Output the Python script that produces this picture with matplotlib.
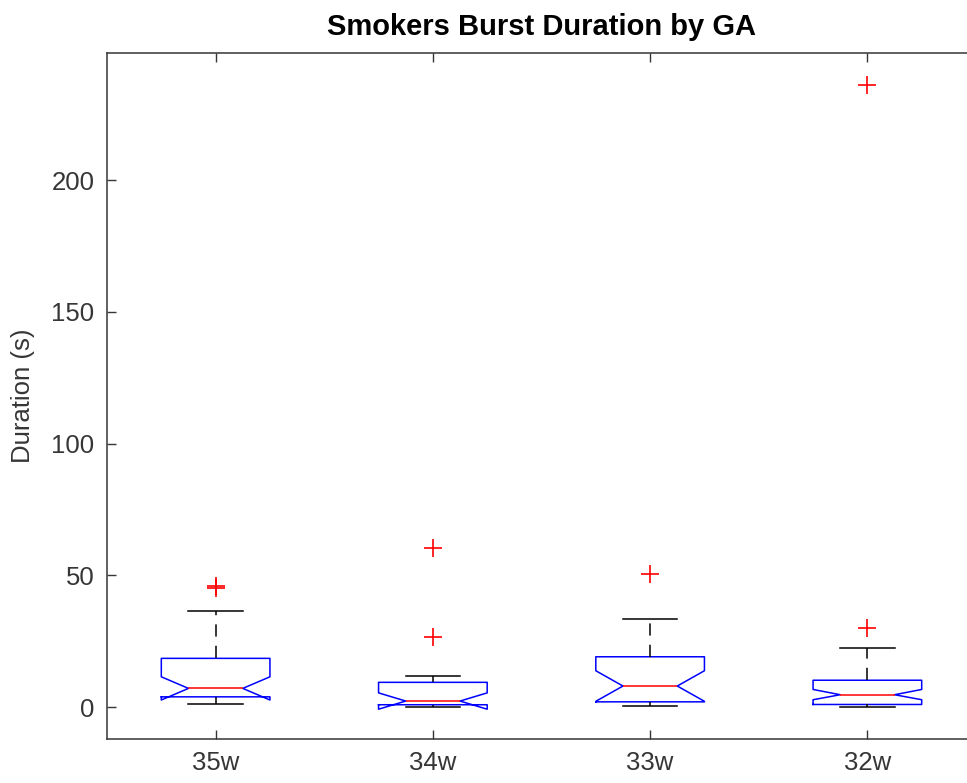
import matplotlib
matplotlib.use('Agg')
import matplotlib.pyplot as plt

# burst duration summary per gestational age group (seconds)
groups = ['35w', '34w', '33w', '32w']
medians = [7.1, 2.3, 8.0, 4.7]
q1 = [3.9, 0.9, 2.0, 1.0]
q3 = [18.5, 9.4, 19.1, 10.2]
whisker_lo = [1.0, 0.1, 0.3, 0.1]
whisker_hi = [36.5, 11.8, 33.5, 22.3]
notch_lo = [2.7, -0.8, 2.2, 2.8]
notch_hi = [11.5, 5.4, 13.8, 6.7]
outliers = [[45.3, 46.0], [26.7, 60.2], [50.5], [29.9, 236.1]]

plt.rcParams['font.family'] = ['Liberation Sans', 'DejaVu Sans']
axis_gray = '#363636'

stats = []
for i, name in enumerate(groups):
    stats.append({
        'label': name,
        'med': medians[i],
        'q1': q1[i],
        'q3': q3[i],
        'whislo': whisker_lo[i],
        'whishi': whisker_hi[i],
        'cilo': notch_lo[i],
        'cihi': notch_hi[i],
        'fliers': outliers[i],
    })

fig = plt.figure(figsize=(9.67, 7.83), dpi=100, facecolor='white')
ax = fig.add_axes([107 / 967, 44 / 783, 869 / 967, 686 / 783])

ax.bxp(stats, positions=range(1, len(groups) + 1), widths=0.5, shownotches=True,
       boxprops=dict(color='blue', linewidth=1.1),
       medianprops=dict(color='red', linewidth=1.1),
       whiskerprops=dict(color='black', linewidth=1.1, linestyle=(0, (8, 6))),
       capprops=dict(color='black', linewidth=1.1),
       flierprops=dict(marker='+', markeredgecolor='red', markersize=13,
                       markeredgewidth=1.2, linestyle='none'))

ax.set_xlim(0.5, 4.5)
ax.set_ylim(-12.1, 248.2)
ax.set_yticks([0, 50, 100, 150, 200])
ax.set_xticks(range(1, len(groups) + 1))
ax.set_xticklabels(groups)

for spine in ax.spines.values():
    spine.set_color(axis_gray)
    spine.set_linewidth(1.1)
ax.tick_params(direction='in', length=6.5, width=1.0, color=axis_gray,
               labelcolor=axis_gray, labelsize=18.5, pad=9,
               top=True, right=True)

ax.set_ylabel('Duration (s)', fontsize=18.5, color=axis_gray, labelpad=12)
ax.set_title('Smokers Burst Duration by GA', fontsize=21, fontweight='bold',
             color='black', pad=13)

fig.savefig('out.png', dpi=100)
